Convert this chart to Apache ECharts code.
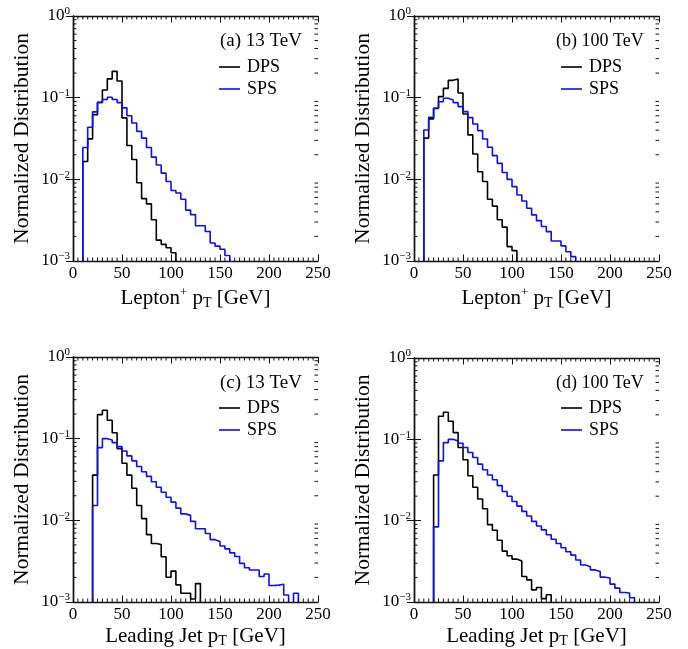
<!DOCTYPE html>
<html>
<head>
<meta charset="utf-8">
<script src="https://cdn.jsdelivr.net/npm/echarts@6/dist/echarts.min.js"></script>
<style>
  html, body { margin: 0; padding: 0; background: #fff; }
  #chart { width: 688px; height: 649px; }
</style>
</head>
<body>
<div id="chart"></div>
<script>
// histograms, 5 GeV bins; each array starts at the first filled bin
const binWidth = 5;
const leptonStart = 10;
const jetStart = 20;

const dpsLepton13 = [0.0165, 0.0313, 0.062, 0.088, 0.124, 0.17, 0.21, 0.16, 0.0565, 0.026,
  0.0175, 0.0091, 0.0058, 0.005, 0.0032, 0.0018, 0.0016, 0.00145, 0.00126];
const spsLepton13 = [0.0245, 0.0434, 0.067, 0.087, 0.095, 0.101, 0.095, 0.087, 0.075, 0.06,
  0.049, 0.0387, 0.032, 0.0245, 0.0187, 0.015, 0.0119, 0.0094, 0.0073, 0.0068,
  0.0057, 0.0042, 0.0037, 0.0027, 0.0027, 0.0023, 0.00166, 0.00152, 0.00139, 0.00117];

const dpsLepton100 = [0.032, 0.055, 0.074, 0.103, 0.13, 0.163, 0.169, 0.114, 0.063, 0.035,
  0.0204, 0.0124, 0.0094, 0.0057, 0.0047, 0.0032, 0.0026, 0.0015, 0.00134];
const spsLepton100 = [0.0402, 0.0575, 0.0741, 0.0893, 0.0983, 0.0937, 0.0869, 0.0776, 0.0675, 0.057,
  0.0476, 0.0395, 0.0312, 0.0247, 0.0195, 0.0157, 0.0121, 0.01, 0.00814, 0.00644,
  0.00544, 0.00443, 0.00367, 0.00312, 0.00264, 0.00229, 0.00176, 0.00176, 0.00153, 0.0013,
  0.00113];

const dpsJet13 = [0.0358, 0.197, 0.223, 0.168, 0.118, 0.0755, 0.05, 0.0358, 0.0247, 0.0152,
  0.0105, 0.00668, 0.0052, 0.00505, 0.00358, 0.00201, 0.00239, 0.00162, 0.00128, 0.00128,
  0.00109, 0.00168];
const spsJet13 = [0.0152, 0.0777, 0.1, 0.0962, 0.0894, 0.08, 0.0707, 0.0615, 0.0535, 0.0456,
  0.0393, 0.0345, 0.0297, 0.0254, 0.0221, 0.0192, 0.0167, 0.0141, 0.012, 0.0115,
  0.0097, 0.0079, 0.0079, 0.0069, 0.0058, 0.0055, 0.00485, 0.00447, 0.004, 0.0036,
  0.00297, 0.00263, 0.00246, 0.00246, 0.00205, 0.0022, 0.00159, 0.00161, 0.00165, 0.00122,
  0.0009, 0.00128];

const dpsJet100 = [0.0364, 0.192, 0.215, 0.167, 0.121, 0.0792, 0.056, 0.0357, 0.0258, 0.0185,
  0.014, 0.00894, 0.00762, 0.00575, 0.00422, 0.00371, 0.00337, 0.00319, 0.00206, 0.00187,
  0.00141, 0.00151, 0.0011, 0.00123];
const spsJet100 = [0.0084, 0.0544, 0.0911, 0.1, 0.0954, 0.0894, 0.0792, 0.0688, 0.0598, 0.0496,
  0.0422, 0.0364, 0.0319, 0.027, 0.0228, 0.02, 0.0172, 0.0151, 0.013, 0.0114,
  0.0098, 0.0086, 0.0077, 0.0067, 0.0059, 0.00525, 0.00465, 0.00415, 0.00377, 0.00328,
  0.00285, 0.00272, 0.00248, 0.00237, 0.00202, 0.00197, 0.00166, 0.00148, 0.00131, 0.00129,
  0.00113];

const seriesNames = ['DPS', 'SPS'];
const panelLabels = ['(a) 13 TeV', '(b) 100 TeV', '(c) 13 TeV', '(d) 100 TeV'];
const xTitleLepton = '{b|Lepton}{sup|+}{b| p}{sub|T}{b| [GeV]}';
const xTitleJet = '{b|Leading Jet p}{sub|T}{b| [GeV]}';
const yTitle = 'Normalized Distribution';
const xMin = 0, xMax = 250, xStep = 50, xMinorStep = 5;
const yMin = 0.001, yMax = 1;

const font = '"Liberation Serif", "DejaVu Serif", serif';
const colors = ['#000000', '#0c0cff'];

const panels = [
  { grid: { left: 73, top: 16, width: 245, height: 245 }, dps: dpsLepton13, sps: spsLepton13, start: leptonStart, xTitle: xTitleLepton, nameGap: 25, labelXY: [220, 41], labelSize: 19, legendXY: [219, 58] },
  { grid: { left: 414, top: 16, width: 245, height: 245 }, dps: dpsLepton100, sps: spsLepton100, start: leptonStart, xTitle: xTitleLepton, nameGap: 25, labelXY: [556, 41], labelSize: 18, legendXY: [561, 58] },
  { grid: { left: 73, top: 357, width: 245, height: 247 }, dps: dpsJet13, sps: spsJet13, start: jetStart, xTitle: xTitleJet, nameGap: 22, labelXY: [220, 383], labelSize: 19, legendXY: [219, 399] },
  { grid: { left: 414, top: 358, width: 245, height: 246 }, dps: dpsJet100, sps: spsJet100, start: jetStart, xTitle: xTitleJet, nameGap: 22, labelXY: [556, 383], labelSize: 18, legendXY: [561, 399] }
];

// minor log ticks 2..9 x decade, minor x ticks every 5 GeV
const logMinorTicks = [];
[0.001, 0.01, 0.1].forEach(function (d) {
  for (let k = 2; k <= 9; k++) logMinorTicks.push(+(k * d).toPrecision(3));
});
const xMinorTicks = [];
for (let x = xMin + xMinorStep; x < xMax; x += xMinorStep) {
  if (x % xStep !== 0) xMinorTicks.push(x);
}

// step outline: rise from below the axis, flat top per bin, drop at the end
function histPoints(values, start) {
  const floor = 1e-4;
  const pts = [[start, floor]];
  values.forEach(function (v, i) { pts.push([start + i * binWidth, v]); });
  const end = start + values.length * binWidth;
  pts.push([end, values[values.length - 1]]);
  pts.push([end, floor]);
  return pts;
}

function expLabel(value) {
  const e = Math.round(Math.log10(value));
  return '{b|10}{s|' + (e < 0 ? '\u2212' + (-e) : e) + '}';
}

const frame = { show: true, lineStyle: { color: '#111', width: 1.4 } };
const majorTick = { show: true, inside: true, length: 6.5, lineStyle: { color: '#111', width: 1 } };
const minorLen = 3.5;
const tickStyle = { stroke: '#111', lineWidth: 1 };

const grids = [], xAxes = [], yAxes = [], series = [], legends = [], graphics = [];

panels.forEach(function (p, i) {
  grids.push(Object.assign({ containLabel: false }, p.grid));

  xAxes.push({
    type: 'value', gridIndex: i, min: xMin, max: xMax, interval: xStep,
    axisLine: frame, axisTick: majorTick, splitLine: { show: false },
    axisLabel: { margin: 4, color: '#000', fontFamily: font, fontSize: 17 },
    name: p.xTitle, nameLocation: 'middle', nameGap: p.nameGap,
    nameTextStyle: {
      color: '#000', fontFamily: font, fontSize: 21,
      rich: {
        b: { fontFamily: font, fontSize: 21, lineHeight: 24, color: '#000' },
        sup: { fontFamily: font, fontSize: 13, verticalAlign: 'top', color: '#000' },
        sub: { fontFamily: font, fontSize: 14, verticalAlign: 'bottom', color: '#000' }
      }
    }
  });
  xAxes.push({
    type: 'value', gridIndex: i, position: 'top', min: xMin, max: xMax, interval: xStep,
    axisLine: frame, axisTick: majorTick, splitLine: { show: false },
    axisLabel: { show: false }
  });

  yAxes.push({
    type: 'log', logBase: 10, gridIndex: i, min: yMin, max: yMax,
    axisLine: frame, axisTick: Object.assign({}, majorTick, { length: 7 }), splitLine: { show: false },
    axisLabel: {
      margin: 3, formatter: expLabel,
      rich: {
        b: { fontFamily: font, fontSize: 17, lineHeight: 20, color: '#000' },
        s: { fontFamily: font, fontSize: 11, verticalAlign: 'top', color: '#000' }
      }
    },
    name: yTitle, nameLocation: 'middle', nameGap: 40,
    nameTextStyle: { color: '#000', fontFamily: font, fontSize: 21.5 }
  });
  yAxes.push({
    type: 'log', logBase: 10, gridIndex: i, position: 'right', min: yMin, max: yMax,
    axisLine: frame, axisTick: Object.assign({}, majorTick, { length: 7 }), splitLine: { show: false },
    axisLabel: { show: false }
  });

  [p.dps, p.sps].forEach(function (vals, k) {
    series.push({
      name: seriesNames[k], type: 'line', step: 'end', symbol: 'none', clip: true,
      xAxisIndex: 2 * i, yAxisIndex: 2 * i,
      lineStyle: { color: colors[k], width: 1.6 }, itemStyle: { color: colors[k] },
      data: histPoints(vals, p.start), z: 2 + k
    });
  });

  // minor ticks on the left/right (log) and bottom/top (linear) edges
  series.push({
    type: 'custom', xAxisIndex: 2 * i, yAxisIndex: 2 * i, silent: true, clip: false, z: 5,
    data: logMinorTicks.map(function (v) { return [xMin, v]; }),
    renderItem: function (params, api) {
      const l = api.coord([xMin, api.value(1)]);
      const r = api.coord([xMax, api.value(1)]);
      return {
        type: 'group', children: [
          { type: 'line', shape: { x1: l[0], y1: l[1], x2: l[0] + minorLen, y2: l[1] }, style: tickStyle },
          { type: 'line', shape: { x1: r[0] - minorLen, y1: r[1], x2: r[0], y2: r[1] }, style: tickStyle }
        ]
      };
    }
  });
  series.push({
    type: 'custom', xAxisIndex: 2 * i, yAxisIndex: 2 * i, silent: true, clip: false, z: 5,
    data: xMinorTicks.map(function (x) { return [x, yMin]; }),
    renderItem: function (params, api) {
      const b = api.coord([api.value(0), yMin]);
      const t = api.coord([api.value(0), yMax]);
      return {
        type: 'group', children: [
          { type: 'line', shape: { x1: b[0], y1: b[1], x2: b[0], y2: b[1] - minorLen }, style: tickStyle },
          { type: 'line', shape: { x1: t[0], y1: t[1], x2: t[0], y2: t[1] + minorLen }, style: tickStyle }
        ]
      };
    }
  });

  legends.push({
    left: p.legendXY[0], top: p.legendXY[1], orient: 'vertical', padding: 0,
    icon: 'rect', itemWidth: 21, itemHeight: 1.6, itemGap: 4, selectedMode: false,
    data: seriesNames,
    textStyle: { fontFamily: font, fontSize: 18, color: '#000', padding: [0, 0, 0, 2] }
  });

  graphics.push({
    type: 'text', x: p.labelXY[0], y: p.labelXY[1], silent: true,
    style: { text: panelLabels[i], fill: '#000', font: p.labelSize + 'px ' + font, verticalAlign: 'middle' }
  });
});

const chart = echarts.init(document.getElementById('chart'), null, { renderer: 'canvas' });
chart.setOption({
  animation: false,
  backgroundColor: '#fff',
  grid: grids,
  xAxis: xAxes,
  yAxis: yAxes,
  legend: legends,
  graphic: graphics,
  series: series
});
</script>
</body>
</html>
